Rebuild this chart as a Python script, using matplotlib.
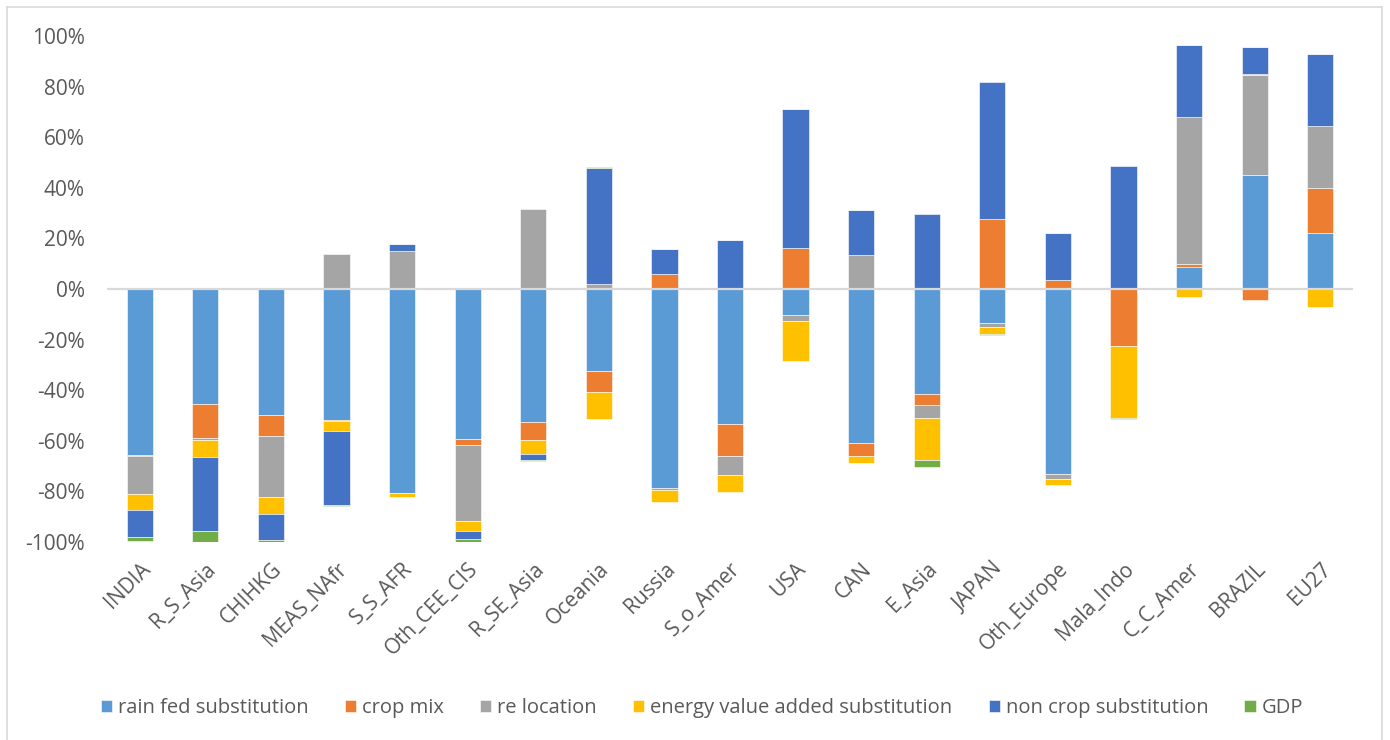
import numpy as np
import matplotlib
matplotlib.use("Agg")
import matplotlib.pyplot as plt
from matplotlib.lines import Line2D
from matplotlib.ticker import PercentFormatter

plt.rcParams['font.family'] = ['Open Sans', 'DejaVu Sans']
plt.rcParams['axes.unicode_minus'] = False

# regions along the x axis
regions = ['INDIA', 'R_S_Asia', 'CHIHKG', 'MEAS_NAfr', 'S_S_AFR', 'Oth_CEE_CIS',
           'R_SE_Asia', 'Oceania', 'Russia', 'S_o_Amer', 'USA', 'CAN', 'E_Asia',
           'JAPAN', 'Oth_Europe', 'Mala_Indo', 'C_C_Amer', 'BRAZIL', 'EU27']

# contribution of each driver, in percent
rain_fed = [-65.5, -45.3, -49.9, -51.6, -80.6, -59.4, -52.7, -32.4, -78.5, -53.5,
            -10.4, -61.0, -41.5, -13.6, -73.3, 0.0, 8.8, 45.2, 22.0]
crop_mix = [-0.5, -13.7, -8.2, -0.4, 0.0, -2.4, -7.0, -8.4, 5.8, -12.6,
            16.1, -5.0, -4.3, 27.5, 3.4, -22.5, 1.0, -4.2, 18.0]
re_location = [-15.0, -0.5, -24.0, 13.8, 15.0, -29.9, 31.6, 2.0, -0.9, -7.3,
               -2.2, 13.4, -5.3, -1.4, -1.8, 0.0, 58.3, 39.5, 24.4]
energy_va = [-6.4, -7.0, -6.7, -4.1, -1.5, -3.8, -5.4, -10.7, -4.7, -7.0,
             -15.9, -2.6, -16.5, -2.7, -2.5, -28.4, -3.3, 0.4, -7.0]
non_crop = [-10.5, -29.3, -10.4, -29.4, 2.8, -3.3, -2.5, 45.9, 9.9, 19.4,
            55.2, 17.8, 29.6, 54.3, 18.8, 48.7, 28.5, 10.5, 28.5]
gdp = [-1.9, -4.3, -0.8, -0.4, 0.0, -1.1, -0.5, 0.3, 0.0, 0.0,
       0.0, 0.0, -2.8, -0.4, 0.0, -0.4, 0.0, 0.0, 0.0]

y_ticks = [-100, -80, -60, -40, -20, 0, 20, 40, 60, 80, 100]

series = [
    ('rain fed substitution', rain_fed, '#5B9BD5'),
    ('crop mix', crop_mix, '#ED7D31'),
    ('re location', re_location, '#A5A5A5'),
    ('energy value added substitution', energy_va, '#FFC000'),
    ('non crop substitution', non_crop, '#4472C4'),
    ('GDP', gdp, '#70AD47'),
]

fig = plt.figure(figsize=(13.9, 7.4), dpi=100)
ax = fig.add_axes([107 / 1390, 1 - 542 / 740, (1353 - 107) / 1390, (542 - 36) / 740])

x = np.arange(len(regions))
pos_base = np.zeros(len(regions))
neg_base = np.zeros(len(regions))

# positive and negative parts stack separately, like Excel stacked columns
for name, vals, color in series:
    v = np.array(vals) / 100.0
    bottom = np.where(v >= 0, pos_base, neg_base)
    ax.bar(x, v, width=0.4, bottom=bottom, color=color, label=name,
           edgecolor='white', linewidth=0.4, zorder=2)
    pos_base += np.clip(v, 0, None)
    neg_base += np.clip(v, None, 0)

ax.axhline(0, color='#D9D9D9', linewidth=1.6, zorder=3)

ax.set_xlim(-0.5, len(regions) - 0.5)
ax.set_ylim(-1, 1)
ax.set_yticks([t / 100 for t in y_ticks])
ax.yaxis.set_major_formatter(PercentFormatter(1.0, decimals=0))
ax.tick_params(axis='y', length=0, pad=16, labelsize=15, labelcolor='#595959')
ax.set_xticks(x)
ax.set_xticklabels(regions, rotation=45, ha='right', rotation_mode='anchor')
ax.tick_params(axis='x', length=0, pad=12, labelsize=15, labelcolor='#595959')
for s in ax.spines.values():
    s.set_visible(False)

handles, labels = ax.get_legend_handles_labels()
fig.legend(handles, labels, loc='center', bbox_to_anchor=(0.505, 0.043), ncol=6,
           frameon=False, fontsize=14.5, labelcolor='#595959',
           handlelength=0.55, handleheight=0.55, handletextpad=0.3, columnspacing=1.8)

# chart frame
fx0, fx1 = 7 / 1390, 1382 / 1390
fy1 = 1 - 7 / 740
for xs, ys in [([fx0, fx0], [0, fy1]), ([fx0, fx1], [fy1, fy1]), ([fx1, fx1], [fy1, 0])]:
    fig.add_artist(Line2D(xs, ys, color='#D9D9D9', linewidth=1.2, transform=fig.transFigure))

fig.savefig('out.png', dpi=100, facecolor='white')
